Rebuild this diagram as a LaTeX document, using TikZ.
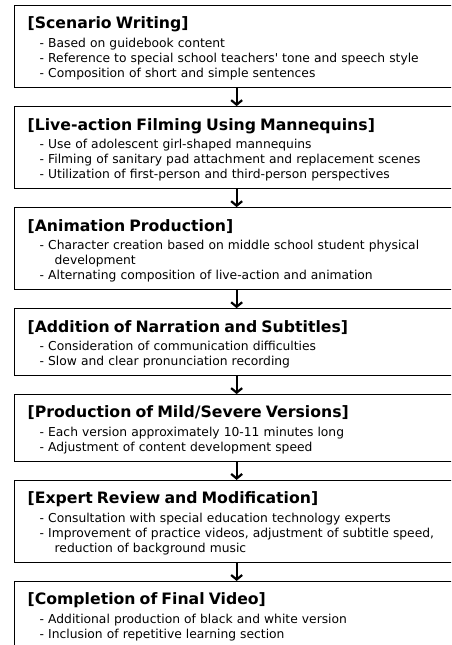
\documentclass[tikz,border=0pt]{standalone}
\usepackage{fontspec}
\setmainfont{DejaVu Sans}
\usetikzlibrary{positioning}
\usetikzlibrary{arrows.meta}

\newcommand{\stagetitle}[1]{{\fontsize{15.7}{18}\selectfont\bfseries\rule{0pt}{16pt}#1}}
\newcommand{\stageitem}[1]{\hspace*{12pt}- #1}
\newcommand{\stagecont}[1]{\hspace*{27pt}#1}

\begin{document}
\begin{tikzpicture}[x=1pt, y=1pt, node distance=18pt,
    stage/.style={draw, line width=1.3pt, anchor=north west, align=left, text width=418pt,
        inner xsep=13pt, inner ysep=7.3pt, font=\fontsize{12.3}{15.2}\selectfont},
    flow/.style={-{Straight Barb[length=4.5pt,width=11pt]}, line width=2.2pt}]
    \useasboundingbox (0,0) rectangle (451,-645);
    \clip (0,0) rectangle (451,-645);
    \node[stage] (scenario) at (14,-5) {\stagetitle{[Scenario Writing]}\\[3pt] \stageitem{Based on guidebook content}\\ \stageitem{Reference to special school teachers\textquotesingle\ tone and speech style}\\ \stageitem{Composition of short and simple sentences}};
    \node[stage, below=of scenario] (filming) {\stagetitle{[Live-action Filming Using Mannequins]}\\[3pt] \stageitem{Use of adolescent girl-shaped mannequins}\\ \stageitem{Filming of sanitary pad attachment and replacement scenes}\\ \stageitem{Utilization of first-person and third-person perspectives}};
    \node[stage, below=of filming] (animation) {\stagetitle{[Animation Production]}\\[3pt] \stageitem{Character creation based on middle school student physical}\\ \stagecont{development}\\ \stageitem{Alternating composition of live-action and animation}};
    \node[stage, below=of animation] (narration) {\stagetitle{[Addition of Narration and Subtitles]}\\[3pt] \stageitem{Consideration of communication difficulties}\\ \stageitem{Slow and clear pronunciation recording}};
    \node[stage, below=of narration] (versions) {\stagetitle{[Production of Mild/Severe Versions]}\\[3pt] \stageitem{Each version approximately 10-11 minutes long}\\ \stageitem{Adjustment of content development speed}};
    \node[stage, below=of versions] (review) {\stagetitle{[Expert Review and Modification]}\\[3pt] \stageitem{Consultation with special education technology experts}\\ \stageitem{Improvement of practice videos, adjustment of subtitle speed,}\\ \stagecont{reduction of background music}};
    \node[stage, below=of review] (final) {\stagetitle{[Completion of Final Video]}\\[3pt] \stageitem{Additional production of black and white version}\\ \stageitem{Inclusion of repetitive learning section}};
    \draw[flow] (scenario) -- (filming);
    \draw[flow] (filming) -- (animation);
    \draw[flow] (animation) -- (narration);
    \draw[flow] (narration) -- (versions);
    \draw[flow] (versions) -- (review);
    \draw[flow] (review) -- (final);
\end{tikzpicture}
\end{document}
